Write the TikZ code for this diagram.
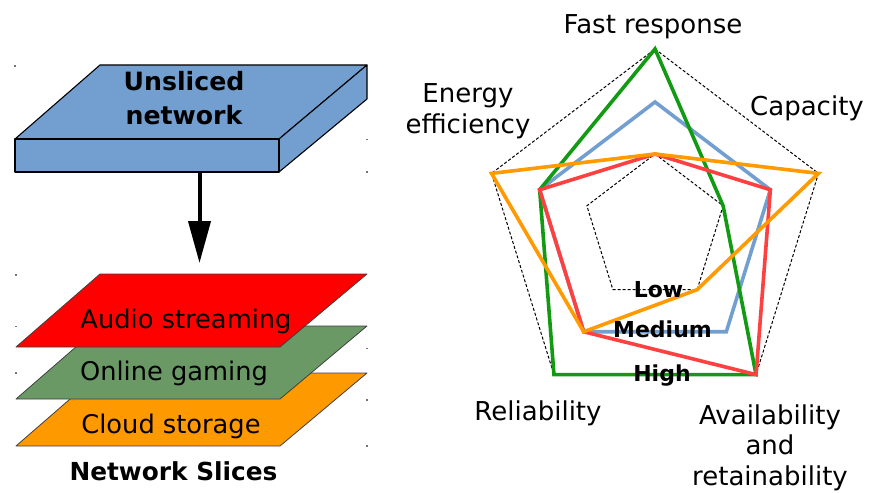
\documentclass[tikz,border=0pt]{standalone}
\usepackage{fontspec}
\setmainfont{DejaVu Sans}
\usetikzlibrary{arrows.meta,calc}

\definecolor{slabblue}{HTML}{729FCF}
\definecolor{sliceRed}{HTML}{FF0000}
\definecolor{sliceGreen}{HTML}{6A9966}
\definecolor{sliceOrange}{HTML}{FF9900}
\definecolor{plotGreen}{HTML}{139A13}
\definecolor{plotBlue}{HTML}{729FCF}
\definecolor{plotRed}{HTML}{FF4040}
\definecolor{plotOrange}{HTML}{FF9A00}

\begin{document}
\begin{tikzpicture}[x=1pt,y=-1pt,
  axislabel/.style={font=\fontsize{26}{30.5}\selectfont, inner sep=0pt, align=center},
  slicelabel/.style={font=\fontsize{25.7}{30}\selectfont, inner sep=0pt},
  headlabel/.style={font=\bfseries\fontsize{25.2}{33.3}\selectfont, inner sep=0pt, align=center},
  levellabel/.style={font=\bfseries\fontsize{22}{26}\selectfont, inner sep=0pt},
  slabface/.style={fill=slabblue, draw=black, line width=1.1pt, line join=round},
  slicebox/.style={draw=black!75, line width=0.8pt, line join=round},
  gridline/.style={draw=black, line width=1pt, dash pattern=on 3pt off 2pt},
  series/.style={line width=3.6pt, line join=miter},
  cornerdot/.style={fill=black!55},
  bigarrow/.style={line width=4pt, -{Triangle[width=22pt,length=42pt]}}
]
\useasboundingbox (0,0) rectangle (869,492);

% ---------- unsliced network slab ----------
\draw[slabface] (15,139) -- (100,65) -- (367,65) -- (279,139) -- cycle;
\draw[slabface] (279,139) -- (367,65) -- (367,99) -- (279,172) -- cycle;
\draw[slabface] (15,139) rectangle (279,172);
\node[headlabel, anchor=north] (unsliced) at (184,71.5) {Unsliced\\network};
\coordinate (slabBottom) at (199.5,172);

% ---------- network slices ----------
\draw[slicebox, fill=sliceOrange] (16,446) -- (100,373) -- (367,373) -- (280,446) -- cycle;
\draw[slicebox, fill=sliceGreen]  (16,399) -- (100,326) -- (367,326) -- (280,399) -- cycle;
\draw[slicebox, fill=sliceRed]    (16,347) -- (100,274) -- (367,274) -- (280,347) -- cycle;
\coordinate (sliceTop) at (199.5,263);

\node[slicelabel, anchor=base] (audio)  at (186,328.3) {Audio streaming};
\node[slicelabel, anchor=base] (gaming) at (174,380.7) {Online gaming};
\node[slicelabel, anchor=base] (cloud)  at (171,433)   {Cloud storage};
\node[headlabel, font=\bfseries\fontsize{24.8}{30}\selectfont, anchor=base] (slices) at (173.5,480.7) {Network Slices};

\draw[bigarrow] (slabBottom) -- (sliceTop);

% small corner marks
\foreach \p in {(15,66),(16,275),(16,326.5),(16,373),(366.7,139.3),(366.7,171.7),(366.7,348.3),(366.7,400),(366.7,445.7)}
  \fill[cornerdot] \p ++(-0.8,-0.8) rectangle ++(1.6,1.6);

% ---------- radar chart ----------
\def\cx{655}
\def\cy{229}
\def\hs{0.955}
\foreach \k/\a in {1/0,2/72,3/144,4/216,5/288}{
  \foreach \lv/\r in {L/75,M/127,H/180}{
    \coordinate (\lv\k) at ({\cx+\hs*\r*sin(\a)},{\cy-\r*cos(\a)});
  }
}

\draw[gridline] (H1) -- (H2) -- (H3) -- (H4) -- (H5) -- cycle;
\draw[gridline] (L1) -- (L2) -- (L3) -- (L4) -- (L5) -- cycle;

\draw[series, plotBlue]   (M1) -- (M2) -- (M3) -- (M4) -- (M5) -- cycle;
\draw[series, plotGreen]  (H1) -- (L2) -- (H3) -- (H4) -- (M5) -- cycle;
\draw[series, plotRed]    (L1) -- (M2) -- (H3) -- (M4) -- (M5) -- cycle;
\draw[series, plotOrange] (L1) -- (H2) -- (L3) -- (M4) -- (H5) -- cycle;

\node[levellabel, anchor=base] (low)    at (658.5,297.3) {Low};
\node[levellabel, anchor=base] (medium) at (662.5,337.3) {Medium};
\node[levellabel, anchor=base] (high)   at (662,381.5)   {High};

\node[axislabel, anchor=base] (fast) at (653,33.3) {Fast response};
\node[axislabel, anchor=base] (capacity) at (807,115) {Capacity};
\node[axislabel, anchor=north] (energy) at (468,83.5) {Energy\\efficiency};
\node[axislabel, anchor=base] (reliab) at (538,420) {Reliability};
\node[axislabel, anchor=north] (avail) at (770,404.5) {Availability\\and\\retainability};

\end{tikzpicture}
\end{document}
